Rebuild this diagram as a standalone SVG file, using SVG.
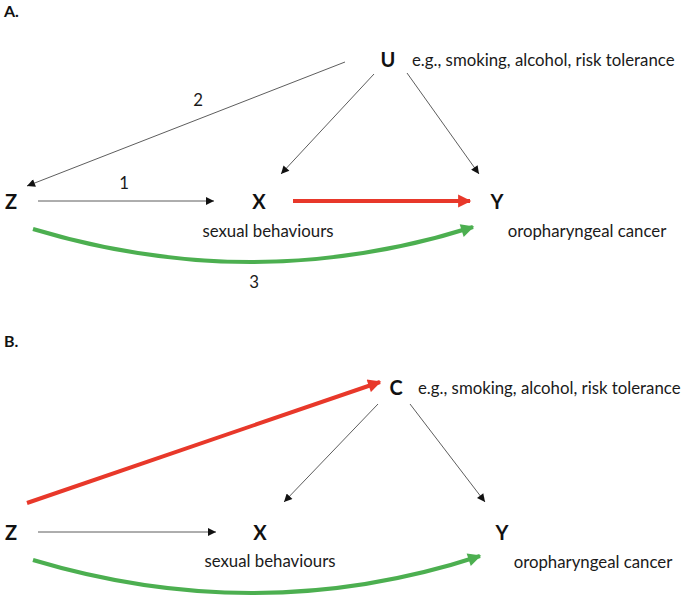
<svg xmlns="http://www.w3.org/2000/svg" width="685" height="597" viewBox="0 0 685 597">
<defs>
<style>
.lbl{font-family:Lato,"Open Sans","Liberation Sans",sans-serif;font-size:16.8px;fill:#1a1a1a}
.node{font-family:Lato,"Open Sans","Liberation Sans",sans-serif;font-size:20px;font-weight:bold;fill:#111}
.panel{font-family:Lato,"Open Sans","Liberation Sans",sans-serif;font-size:16px;font-weight:bold;fill:#111}
.thin{stroke:#333;stroke-width:0.8;fill:none;marker-end:url(#ab)}
.red{stroke:#e8382a;stroke-width:4;fill:none;marker-end:url(#ar)}
.green{stroke:#4caf50;stroke-width:4;fill:none;marker-end:url(#ag)}
</style>
<marker id="ab" viewBox="0 0 10 10" refX="10" refY="5" markerWidth="9" markerHeight="8" markerUnits="userSpaceOnUse" orient="auto"><path d="M0,0 L10,5 L0,10 z" fill="#111"/></marker>
<marker id="ar" viewBox="0 0 10 10" refX="9" refY="5" markerWidth="3.8" markerHeight="3.3" orient="auto"><path d="M0,0 L10,5 L0,10 z" fill="#e8382a"/></marker>
<marker id="ag" viewBox="0 0 10 10" refX="9" refY="5" markerWidth="3.8" markerHeight="3.3" orient="auto"><path d="M0,0 L10,5 L0,10 z" fill="#4caf50"/></marker>
</defs>
<rect width="685" height="597" fill="#fff"/>
<text class="panel" x="4" y="17">A.</text>
<text class="panel" x="4" y="347">B.</text>
<g id="connectors">
<path class="thin" d="M345,62 L27,186"/>
<path class="thin" d="M374,74 L281,174"/>
<path class="thin" d="M407,73 L479,174"/>
<path class="thin" d="M38,201 L214,201"/>
<path class="red" d="M293,201 L470,201"/>
<path class="green" d="M33,229 Q255,296 473,227"/>
<text class="lbl" x="198" y="106" text-anchor="middle">2</text>
<text class="lbl" x="124" y="189" text-anchor="middle">1</text>
<text class="lbl" x="254" y="288" text-anchor="middle">3</text>
<path class="red" d="M27,503 L380,382"/>
<path class="thin" d="M378,404 L284,502"/>
<path class="thin" d="M410,404 L485,502"/>
<path class="thin" d="M38,532 L216,532"/>
<path class="green" d="M33,560 Q260,628 480,556"/>
</g>
<g id="U"><text class="node" x="388" y="67" text-anchor="middle">U</text><text class="lbl" x="412" y="66">e.g., smoking, alcohol, risk tolerance</text></g>
<g id="Z_A"><text class="node" x="11" y="209" text-anchor="middle">Z</text></g>
<g id="X_A"><text class="node" x="259" y="209" text-anchor="middle">X</text><text class="lbl" x="268" y="237" text-anchor="middle">sexual behaviours</text></g>
<g id="Y_A"><text class="node" x="497" y="209" text-anchor="middle">Y</text><text class="lbl" x="587" y="237" text-anchor="middle">oropharyngeal cancer</text></g>
<g id="C"><text class="node" x="396" y="395" text-anchor="middle">C</text><text class="lbl" x="418" y="394">e.g., smoking, alcohol, risk tolerance</text></g>
<g id="Z_B"><text class="node" x="11" y="540" text-anchor="middle">Z</text></g>
<g id="X_B"><text class="node" x="260" y="540" text-anchor="middle">X</text><text class="lbl" x="270" y="567" text-anchor="middle">sexual behaviours</text></g>
<g id="Y_B"><text class="node" x="502" y="540" text-anchor="middle">Y</text><text class="lbl" x="593" y="568" text-anchor="middle">oropharyngeal cancer</text></g>
</svg>
